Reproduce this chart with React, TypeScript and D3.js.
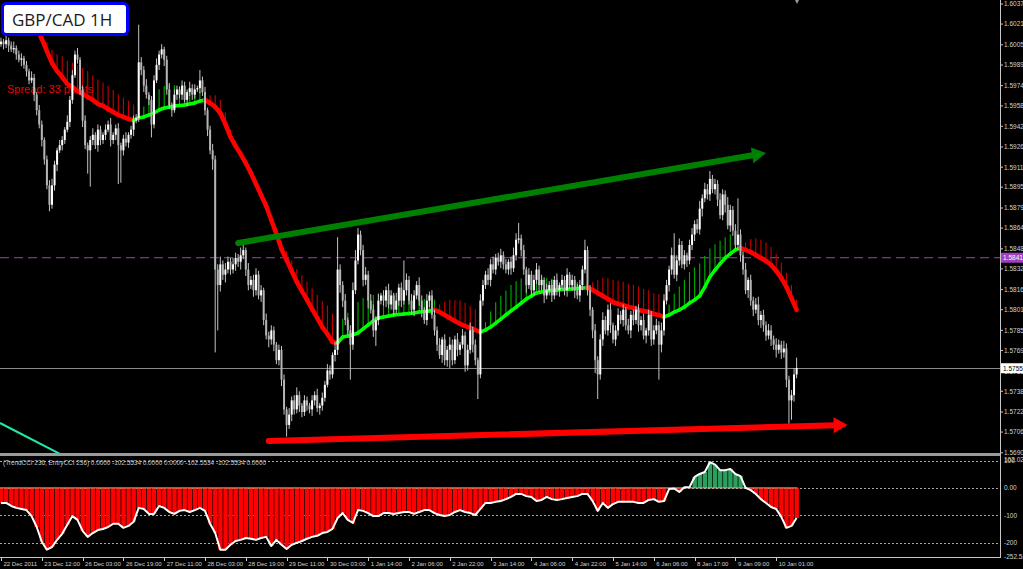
import React, { useEffect, useRef } from 'react';
import * as d3 from 'd3';

const W = 1023;
const H = 569;

// hourly GBP/CAD closes, 22 Dec 2011 -> 10 Jan 2012
const FIRST_OPEN = 1.6006;
const closes = [
  1.6008, 1.6006, 1.6009, 1.6005, 1.6002, 1.6003, 1.5998, 1.5994, 1.5995, 1.5990,
  1.5985, 1.5978, 1.5980, 1.5967, 1.5955, 1.5944, 1.5932, 1.5917, 1.5897, 1.5882,
  1.5897, 1.5913, 1.5924, 1.5928, 1.5932, 1.5940, 1.5946, 1.5963, 1.5982, 1.5998,
  1.5994, 1.5971, 1.5947, 1.5928, 1.5924, 1.5932, 1.5936, 1.5928, 1.5940, 1.5932,
  1.5936, 1.5940, 1.5944, 1.5932, 1.5936, 1.5941, 1.5928, 1.5924, 1.5933, 1.5930,
  1.5936, 1.5940, 1.5947, 1.5949, 1.5992, 1.5986, 1.5974, 1.5967, 1.5963, 1.5944,
  1.5978, 1.5990, 1.5998, 1.6002, 1.5994, 1.5971, 1.5959, 1.5955, 1.5967, 1.5971,
  1.5967, 1.5974, 1.5963, 1.5969, 1.5972, 1.5967, 1.5971, 1.5972, 1.5978, 1.5969,
  1.5955, 1.5940, 1.5924, 1.5917, 1.5832, 1.5820, 1.5836, 1.5828, 1.5832, 1.5838,
  1.5832, 1.5836, 1.5841, 1.5838, 1.5843, 1.5847, 1.5832, 1.5820, 1.5824, 1.5816,
  1.5828, 1.5812, 1.5816, 1.5793, 1.5781, 1.5778, 1.5785, 1.5774, 1.5762, 1.5770,
  1.5747, 1.5724, 1.5712, 1.5720, 1.5731, 1.5724, 1.5735, 1.5727, 1.5722, 1.5731,
  1.5727, 1.5724, 1.5731, 1.5735, 1.5725, 1.5727, 1.5733, 1.5743, 1.5754, 1.5751,
  1.5766, 1.5770, 1.5832, 1.5820, 1.5808, 1.5793, 1.5785, 1.5774, 1.5816, 1.5839,
  1.5859, 1.5847, 1.5824, 1.5828, 1.5808, 1.5801, 1.5785, 1.5793, 1.5808, 1.5812,
  1.5808, 1.5816, 1.5805, 1.5812, 1.5801, 1.5808, 1.5818, 1.5808, 1.5816, 1.5824,
  1.5808, 1.5801, 1.5812, 1.5820, 1.5808, 1.5801, 1.5793, 1.5808, 1.5812, 1.5797,
  1.5785, 1.5774, 1.5766, 1.5778, 1.5762, 1.5770, 1.5774, 1.5762, 1.5778, 1.5770,
  1.5774, 1.5781, 1.5758, 1.5770, 1.5785, 1.5774, 1.5762, 1.5751, 1.5808, 1.5820,
  1.5828, 1.5824, 1.5836, 1.5832, 1.5841, 1.5838, 1.5843, 1.5836, 1.5832, 1.5838,
  1.5833, 1.5843, 1.5855, 1.5856, 1.5847, 1.5832, 1.5820, 1.5828, 1.5816, 1.5824,
  1.5832, 1.5820, 1.5824, 1.5812, 1.5816, 1.5820, 1.5812, 1.5824, 1.5816, 1.5820,
  1.5824, 1.5816, 1.5828, 1.5820, 1.5824, 1.5816, 1.5812, 1.5820, 1.5832, 1.5847,
  1.5816, 1.5801, 1.5785, 1.5762, 1.5751, 1.5778, 1.5793, 1.5785, 1.5801, 1.5789,
  1.5778, 1.5785, 1.5797, 1.5793, 1.5801, 1.5789, 1.5785, 1.5797, 1.5793, 1.5801,
  1.5789, 1.5793, 1.5781, 1.5785, 1.5797, 1.5778, 1.5785, 1.5789, 1.5774, 1.5785,
  1.5808, 1.5820, 1.5832, 1.5843, 1.5828, 1.5839, 1.5851, 1.5836, 1.5843, 1.5839,
  1.5851, 1.5859, 1.5867, 1.5863, 1.5879, 1.5887, 1.5894, 1.5890, 1.5902, 1.5894,
  1.5898, 1.5886, 1.5874, 1.5890, 1.5882, 1.5866, 1.5878, 1.5862, 1.5851, 1.5859,
  1.5843, 1.5832, 1.5816, 1.5824, 1.5808, 1.5801, 1.5805, 1.5793, 1.5797, 1.5789,
  1.5781, 1.5785, 1.5778, 1.5774, 1.5770, 1.5774, 1.5768, 1.5771, 1.5747, 1.5731,
  1.5735, 1.5751, 1.5756,
];

// wick lengths beyond the body, in pips
const upWick = [
  3, 2, 4, 2, 3, 5, 2, 3, 4, 2, 3, 2, 5, 3, 2, 4, 3, 2, 3, 4,
  5, 3, 2, 4, 3, 2, 5, 3, 4, 3, 5, 2, 3, 4, 2, 3, 5, 2, 4, 3,
  2, 4, 3, 5, 2, 3, 4, 2, 3, 5, 2, 3, 4, 3, 29, 4, 3, 5, 2, 3,
  4, 5, 3, 4, 2, 3, 5, 2, 4, 3, 2, 4, 3, 2, 5, 3, 4, 2, 8, 3,
  4, 2, 3, 5, 3, 4, 6, 3, 5, 4, 3, 5, 4, 3, 6, 4, 2, 5, 3, 4,
  5, 3, 4, 2, 5, 3, 4, 3, 2, 4, 3, 4, 2, 5, 3, 4, 6, 3, 2, 4,
  3, 2, 4, 3, 5, 2, 4, 3, 5, 4, 2, 6, 25, 4, 3, 5, 2, 4, 6, 8,
  5, 3, 4, 6, 3, 5, 4, 3, 5, 2, 4, 3, 5, 4, 2, 6, 3, 4, 23, 5,
  3, 5, 4, 3, 6, 4, 2, 5, 3, 4, 4, 3, 5, 2, 4, 3, 6, 4, 3, 5,
  2, 5, 3, 4, 6, 3, 4, 2, 5, 4, 3, 5, 4, 6, 3, 4, 5, 3, 4, 2,
  4, 6, 5, 12, 3, 4, 2, 5, 3, 4, 5, 3, 4, 2, 5, 3, 4, 3, 5, 2,
  4, 3, 5, 2, 4, 3, 5, 4, 3, 8, 3, 4, 2, 5, 3, 4, 6, 3, 4, 5,
  2, 4, 5, 3, 4, 2, 5, 3, 4, 3, 4, 3, 5, 2, 4, 3, 4, 5, 3, 6,
  5, 4, 3, 6, 17, 4, 5, 3, 4, 2, 4, 5, 3, 4, 6, 3, 5, 4, 6, 3,
  4, 3, 5, 4, 3, 6, 4, 3, 5, 28, 4, 3, 5, 2, 4, 3, 5, 6, 3, 4,
  3, 5, 4, 3, 5, 4, 3, 6, 4, 3, 4, 5, 8,
];
const downWick = [
  2, 4, 3, 5, 2, 3, 4, 2, 5, 3, 4, 3, 2, 5, 4, 3, 5, 4, 3, 5,
  3, 4, 5, 2, 4, 3, 2, 4, 3, 2, 3, 4, 5, 3, 18, 28, 4, 3, 5, 4,
  3, 4, 2, 5, 3, 4, 30, 25, 4, 3, 4, 3, 5, 2, 3, 4, 5, 3, 4, 10,
  3, 2, 4, 3, 5, 4, 3, 5, 2, 4, 3, 4, 2, 5, 3, 4, 3, 2, 4, 3,
  4, 5, 3, 8, 64, 35, 5, 4, 6, 3, 4, 3, 5, 4, 6, 3, 5, 4, 3, 5,
  4, 3, 5, 4, 3, 6, 4, 5, 3, 4, 5, 4, 9, 3, 5, 4, 3, 5, 4, 3,
  4, 3, 5, 4, 3, 5, 4, 3, 2, 4, 3, 5, 4, 6, 5, 4, 3, 27, 4, 3,
  3, 4, 5, 4, 6, 3, 5, 12, 4, 3, 4, 5, 3, 4, 5, 3, 4, 5, 3, 4,
  3, 4, 5, 3, 4, 6, 3, 4, 5, 3, 4, 5, 3, 6, 4, 5, 14, 4, 3, 5,
  4, 3, 5, 4, 3, 6, 4, 19, 3, 4, 3, 4, 5, 3, 4, 3, 5, 4, 3, 4,
  5, 3, 4, 3, 5, 4, 6, 3, 5, 4, 3, 5, 4, 6, 3, 4, 5, 3, 4, 5,
  3, 4, 5, 3, 4, 6, 3, 5, 4, 3, 4, 5, 6, 10, 19, 4, 5, 3, 4, 6,
  3, 5, 4, 3, 5, 4, 3, 6, 4, 3, 5, 4, 3, 6, 4, 5, 4, 3, 27, 6,
  4, 3, 5, 4, 3, 5, 4, 3, 4, 5, 3, 4, 5, 3, 4, 6, 3, 4, 5, 3,
  4, 5, 3, 4, 6, 3, 5, 4, 3, 4, 5, 4, 3, 6, 4, 5, 3, 4, 6, 5,
  4, 3, 5, 4, 6, 3, 5, 4, 6, 18, 15, 5, 3,
];

// smoothed moving average, one value every 2nd bar starting at bar 14
const MA_START = 14;
const maValues = [
  1.60185, 1.60100, 1.60007, 1.59915, 1.59853, 1.59806, 1.59752, 1.59729, 1.59698, 1.59675,
  1.59652, 1.59629, 1.59598, 1.59583, 1.59559, 1.59536, 1.59513, 1.59498, 1.59482, 1.59474,
  1.59490, 1.59498, 1.59513, 1.59529, 1.59552, 1.59567, 1.59575, 1.59583, 1.59586, 1.59590,
  1.59598, 1.59606, 1.59621, 1.59629,
  1.59606, 1.59575, 1.59528, 1.59443, 1.59343, 1.59273, 1.59211, 1.59142, 1.59065, 1.58980,
  1.58895, 1.58810, 1.58702, 1.58594, 1.58478, 1.58393, 1.58309, 1.58224, 1.58154, 1.58085,
  1.58015, 1.57946, 1.57876, 1.57822, 1.57761,
  1.57753, 1.57799, 1.57807, 1.57815, 1.57830, 1.57861, 1.57892, 1.57923, 1.57946, 1.57954,
  1.57961, 1.57969, 1.57972, 1.57977, 1.57980, 1.57985, 1.57992, 1.57995, 1.58000, 1.58008,
  1.57992, 1.57969, 1.57946, 1.57923, 1.57900, 1.57884, 1.57869, 1.57853, 1.57838,
  1.57853, 1.57876, 1.57907, 1.57938, 1.57969, 1.58000, 1.58030, 1.58061, 1.58092, 1.58116,
  1.58139, 1.58146, 1.58154, 1.58158, 1.58162, 1.58165, 1.58168, 1.58170, 1.58173, 1.58177,
  1.58180,
  1.58162, 1.58139, 1.58116, 1.58092, 1.58069, 1.58054, 1.58046, 1.58030, 1.58023, 1.58008,
  1.58000, 1.57992, 1.57977, 1.57969, 1.57954,
  1.57969, 1.57992, 1.58008, 1.58030, 1.58061, 1.58085, 1.58116, 1.58185, 1.58262, 1.58316,
  1.58363, 1.58409, 1.58440, 1.58471, 1.58486,
  1.58471, 1.58455, 1.58432, 1.58409, 1.58386, 1.58355, 1.58309, 1.58255, 1.58185, 1.58100,
  1.58008,
];
// histogram height above the MA, in pips
const maGap = [
  2, 4, 7, 10, 13, 16, 18, 19, 20,
  20, 20, 19, 19, 18, 18, 17, 16, 15, 14, 12,
  4, 8, 11, 14, 16, 17, 17, 16, 15, 14, 12, 10, 8, 5,
  6, 9, 10, 9, 6, 4, 3, 3, 3, 3, 3, 4, 4, 5, 6, 7, 8, 10, 12, 14, 16, 18, 20, 22, 22,
  8, 14, 18, 22, 24, 24, 22, 20, 19, 18, 17, 16, 15, 14, 13, 12, 11, 10, 9, 8,
  6, 10, 14, 16, 18, 18, 17, 16, 14,
  6, 12, 16, 18, 19, 20, 20, 19, 18, 16, 14, 12, 10, 9, 8, 7, 6, 6, 5, 5, 4,
  6, 10, 14, 16, 17, 18, 18, 18, 18, 18, 17, 17, 16, 16, 15,
  8, 14, 18, 21, 24, 25, 25, 24, 22, 20, 18, 16, 15, 13, 12,
  6, 10, 13, 14, 14, 14, 13, 12, 11, 10, 8,
];

// TrendCCI(236), one value every 2nd bar
const cciValues = [
  -55, -55, -66, -73, -77, -81, -103, -143, -197, -226,
  -216, -190, -168, -135, -103, -117, -157, -179, -165, -154,
  -150, -143, -131, -131, -146, -139, -124, -73, -77, -95,
  -95, -66, -73, -88, -95, -84, -81, -88, -81, -73,
  -84, -131, -165, -226, -226, -208, -194, -190, -183, -186,
  -190, -183, -179, -212, -190, -208, -223, -208, -201, -194,
  -186, -179, -175, -165, -161, -150, -110, -92, -117, -128,
  -81, -84, -92, -103, -103, -92, -92, -95, -92, -88,
  -88, -95, -88, -81, -81, -92, -99, -103, -99, -88,
  -81, -88, -92, -99, -77, -55, -55, -51, -48, -41,
  -33, -22, -22, -30, -33, -48, -44, -33, -41, -44,
  -41, -37, -33, -30, -22, -22, -48, -84, -55, -73,
  -59, -51, -51, -51, -51, -55, -55, -44, -41, -51,
  -48, -4, -2, -15, 2, 3, 40, 51, 58, 94,
  85, 65, 65, 69, 51, 43, 0, -8, -22, -41,
  -55, -70, -77, -106, -146, -139, -110,
];
const cciLevels = [100, 0, -100, -200];
const cciLabels = [
  { v: 102.023, t: '102.023' },
  { v: 100, t: '100' },
  { v: 0, t: '0.00' },
  { v: -100, t: '-100' },
  { v: -200, t: '-200' },
  { v: -252.58, t: '-252.58' },
];

const priceTicks = [
  1.60370, 1.60215, 1.60055, 1.59899, 1.59740, 1.59583, 1.59426, 1.59266, 1.59110, 1.58956,
  1.58795, 1.58640, 1.58480, 1.58325, 1.58165, 1.58010, 1.57850, 1.57695, 1.57535, 1.57380,
  1.57220, 1.57065, 1.56905,
];
const TIME_STEP = 16;
const timeLabels = [
  '22 Dec 2011', '23 Dec 12:00', '26 Dec 03:00', '26 Dec 19:00', '27 Dec 11:00',
  '28 Dec 03:00', '28 Dec 19:00', '29 Dec 11:00', '30 Dec 03:00', '1 Jan 14:00',
  '2 Jan 06:00', '2 Jan 22:00', '3 Jan 14:00', '4 Jan 06:00', '4 Jan 22:00',
  '5 Jan 14:00', '6 Jan 06:00', '8 Jan 17:00', '9 Jan 09:00', '10 Jan 01:00',
];

const BID = 1.57558;
const ALERT_LEVEL = 1.58411;

// hand drawn objects: [bar, price]
const resistanceArrow = { from: [93, 1.58525], to: [300, 1.5922] };
const supportArrow = { from: [105, 1.56996], to: [332, 1.5712] };
const oldTrendline = { from: [-0.4, 1.57135], to: [26, 1.56867] };

const CCI_HEADER =
  '(TrendCCI 236, EntryCCI 236)  0.0000 -102.5534 0.0000 0.0000 -102.5534 -102.5534 0.0000';

const SMALL_FONT = '"Liberation Sans", Arial, sans-serif';

export default function App() {
  const svgRef = useRef<SVGSVGElement>(null);

  useEffect(() => {
    if (!svgRef.current) return;
    const svg = d3.select(svgRef.current);
    svg.selectAll('*').remove();

    const n = closes.length;
    const barStep = 2.55;
    const x = d3.scaleLinear().domain([0, n - 1]).range([1, 1 + barStep * (n - 1)]);
    const y = d3.scaleLinear().domain([1.56905, 1.6037]).range([452.8, 4]);
    const yc = d3.scaleLinear().domain([-252.58, 102.023]).range([557, 460]);
    const axisX = 1000;

    svg.append('rect').attr('width', W).attr('height', H).attr('fill', '#000');

    const defs = svg.append('defs');
    defs.append('clipPath').attr('id', 'mainClip')
      .append('rect').attr('x', 0).attr('y', 0).attr('width', axisX).attr('height', 453);
    defs.append('clipPath').attr('id', 'subClip')
      .append('rect').attr('x', 0).attr('y', 457).attr('width', axisX).attr('height', 100);

    const main = svg.append('g').attr('clip-path', 'url(#mainClip)');

    // spread label sits under the candles
    main.append('text')
      .attr('x', 7).attr('y', 93)
      .attr('fill', '#f00000')
      .attr('font-family', SMALL_FONT)
      .attr('font-size', 11)
      .text('Spread: 33 points');

    // horizontal price lines
    main.append('line')
      .attr('x1', 0).attr('x2', axisX)
      .attr('y1', y(ALERT_LEVEL)).attr('y2', y(ALERT_LEVEL))
      .attr('stroke', '#a040c0').attr('stroke-width', 1)
      .attr('stroke-dasharray', '9,5');
    main.append('line')
      .attr('x1', 0).attr('x2', axisX)
      .attr('y1', Math.round(y(BID)) + 0.5).attr('y2', Math.round(y(BID)) + 0.5)
      .attr('stroke', '#8a8a8a').attr('stroke-width', 1);

    // moving average with its histogram
    type MaPt = { b: number; v: number; gap: number; up: boolean };
    const maPts: MaPt[] = maValues.map((v, k) => ({ b: MA_START + 2 * k, v, gap: maGap[k], up: false }));
    maPts.forEach((p, k) => {
      if (k === 0) return;
      const prev = maPts[k - 1];
      p.up = p.v > prev.v ? true : p.v < prev.v ? false : prev.up;
    });

    main.append('g').selectAll('line')
      .data(maPts)
      .join('line')
      .attr('x1', (d) => x(d.b)).attr('x2', (d) => x(d.b))
      .attr('y1', (d) => y(d.v)).attr('y2', (d) => y(d.v + d.gap / 10000))
      .attr('stroke', (d) => (d.up ? '#00b000' : '#c80000'))
      .attr('stroke-width', 1.1);

    main.append('g').selectAll('line')
      .data(d3.pairs(maPts))
      .join('line')
      .attr('x1', (d) => x(d[0].b)).attr('y1', (d) => y(d[0].v))
      .attr('x2', (d) => x(d[1].b)).attr('y2', (d) => y(d[1].v))
      .attr('stroke', (d) => (d[1].up ? '#00ff00' : '#ff0000'))
      .attr('stroke-width', (d) => (d[1].up ? 3.5 : 4.5))
      .attr('stroke-linecap', 'round');

    // candles
    const bars = closes.map((c, i) => {
      const o = i === 0 ? FIRST_OPEN : closes[i - 1];
      return {
        i, o, c,
        h: Math.max(o, c) + upWick[i] / 10000,
        l: Math.min(o, c) - downWick[i] / 10000,
      };
    });
    const cg = main.append('g');
    cg.selectAll('line')
      .data(bars)
      .join('line')
      .attr('x1', (d) => x(d.i)).attr('x2', (d) => x(d.i))
      .attr('y1', (d) => y(d.h)).attr('y2', (d) => y(d.l))
      .attr('stroke', '#c4c4c4').attr('stroke-width', 1);
    cg.selectAll('rect')
      .data(bars)
      .join('rect')
      .attr('x', (d) => x(d.i) - 1)
      .attr('width', 2)
      .attr('y', (d) => y(Math.max(d.o, d.c)))
      .attr('height', (d) => Math.max(1, Math.abs(y(d.o) - y(d.c))))
      .attr('fill', (d) => (d.c >= d.o ? '#ffffff' : '#b4b4b4'));

    // trend arrows
    const drawArrow = (obj: { from: number[]; to: number[] }, color: string, w: number) => {
      const x1 = x(obj.from[0]), y1 = y(obj.from[1]);
      const x2 = x(obj.to[0]), y2 = y(obj.to[1]);
      const ang = Math.atan2(y2 - y1, x2 - x1);
      const hl = 14, hw = 8;
      const bx = x2 - hl * Math.cos(ang), by = y2 - hl * Math.sin(ang);
      main.append('line')
        .attr('x1', x1).attr('y1', y1).attr('x2', bx + 2 * Math.cos(ang)).attr('y2', by + 2 * Math.sin(ang))
        .attr('stroke', color).attr('stroke-width', w).attr('stroke-linecap', 'round');
      main.append('path')
        .attr('d', `M${x2},${y2}L${bx + hw * Math.sin(ang)},${by - hw * Math.cos(ang)}L${bx - hw * Math.sin(ang)},${by + hw * Math.cos(ang)}Z`)
        .attr('fill', color);
    };
    drawArrow(resistanceArrow, '#008000', 6);
    drawArrow(supportArrow, '#ff0000', 6);

    main.append('line')
      .attr('x1', x(oldTrendline.from[0])).attr('y1', y(oldTrendline.from[1]))
      .attr('x2', x(oldTrendline.to[0])).attr('y2', y(oldTrendline.to[1]))
      .attr('stroke', '#20e8a8').attr('stroke-width', 2);

    // panel separator
    svg.append('rect').attr('x', 0).attr('y', 453).attr('width', axisX).attr('height', 3).attr('fill', '#9a9a9a');

    // indicator window
    const sub = svg.append('g').attr('clip-path', 'url(#subClip)');
    sub.append('g').selectAll('line')
      .data(cciLevels)
      .join('line')
      .attr('x1', 0).attr('x2', axisX)
      .attr('y1', (d) => Math.round(yc(d)) + 0.5).attr('y2', (d) => Math.round(yc(d)) + 0.5)
      .attr('stroke', '#a8a8a8').attr('stroke-width', 1)
      .attr('stroke-dasharray', '2,2');

    const cciPts = cciValues.map((v, k) => ({ b: 2 * k, v }));
    sub.append('g').selectAll('rect')
      .data(cciPts)
      .join('rect')
      .attr('x', (d) => x(d.b) - 2.1)
      .attr('width', 4.4)
      .attr('y', (d) => yc(Math.max(0, d.v)))
      .attr('height', (d) => Math.abs(yc(d.v) - yc(0)))
      .attr('fill', (d) => (d.v >= 0 ? '#2e9e5e' : '#ff0000'));

    sub.append('line')
      .attr('x1', 0).attr('x2', x(n - 1) + 1)
      .attr('y1', yc(0)).attr('y2', yc(0))
      .attr('stroke', '#c8b888').attr('stroke-width', 1);

    const cciLine = d3.line<{ b: number; v: number }>()
      .x((d) => x(d.b))
      .y((d) => yc(d.v));
    sub.append('path')
      .datum(cciPts)
      .attr('d', cciLine)
      .attr('fill', 'none')
      .attr('stroke', '#ffffff')
      .attr('stroke-width', 2)
      .attr('stroke-linejoin', 'round');

    svg.append('text')
      .attr('x', 3).attr('y', 465)
      .attr('fill', '#c8c8c8')
      .attr('font-family', SMALL_FONT)
      .attr('font-size', 6.4)
      .text(CCI_HEADER);

    // frame
    svg.append('line')
      .attr('x1', axisX + 0.5).attr('x2', axisX + 0.5).attr('y1', 0).attr('y2', 557)
      .attr('stroke', '#c8c8c8').attr('stroke-width', 1);
    svg.append('line')
      .attr('x1', 0).attr('x2', axisX + 1).attr('y1', 557.5).attr('y2', 557.5)
      .attr('stroke', '#c8c8c8').attr('stroke-width', 1);

    // price axis
    const pAxis = svg.append('g');
    pAxis.selectAll('line')
      .data(priceTicks)
      .join('line')
      .attr('x1', axisX).attr('x2', axisX + 3)
      .attr('y1', (d) => y(d)).attr('y2', (d) => y(d))
      .attr('stroke', '#c8c8c8');
    pAxis.selectAll('text')
      .data(priceTicks)
      .join('text')
      .attr('x', axisX + 4).attr('y', (d) => y(d) + 2.3)
      .attr('fill', '#d0d0d0')
      .attr('font-family', SMALL_FONT)
      .attr('font-size', 6.5)
      .text((d) => d.toFixed(5));

    const tag = (price: number, bg: string, fg: string) => {
      const ty = y(price);
      svg.append('rect')
        .attr('x', axisX + 1).attr('y', ty - 5).attr('width', 24).attr('height', 10)
        .attr('fill', bg);
      svg.append('text')
        .attr('x', axisX + 3).attr('y', ty + 2.3)
        .attr('fill', fg)
        .attr('font-family', SMALL_FONT)
        .attr('font-size', 6.5)
        .text(price.toFixed(5));
    };
    tag(ALERT_LEVEL, '#a040c0', '#ffffff');
    tag(BID, '#ffffff', '#000000');

    // indicator axis
    const cAxis = svg.append('g');
    cAxis.selectAll('text')
      .data(cciLabels)
      .join('text')
      .attr('x', axisX + 4).attr('y', (d) => yc(d.v) + 2.3)
      .attr('fill', '#d0d0d0')
      .attr('font-family', SMALL_FONT)
      .attr('font-size', 6.5)
      .text((d) => d.t);

    // time axis
    const tAxis = svg.append('g');
    const tData = timeLabels.map((t, k) => ({ b: k * TIME_STEP, t }));
    tAxis.selectAll('line')
      .data(tData)
      .join('line')
      .attr('x1', (d) => Math.round(x(d.b)) + 0.5).attr('x2', (d) => Math.round(x(d.b)) + 0.5)
      .attr('y1', 557).attr('y2', 561)
      .attr('stroke', '#c8c8c8');
    tAxis.selectAll('text')
      .data(tData)
      .join('text')
      .attr('x', (d) => x(d.b) + 2.5).attr('y', 566)
      .attr('fill', '#d0d0d0')
      .attr('font-family', SMALL_FONT)
      .attr('font-size', 6)
      .text((d) => d.t);

    // small object marker at the top
    svg.append('path').attr('d', 'M795,0L799,0L797,4Z').attr('fill', '#9a9a9a');

    // title box
    svg.append('rect')
      .attr('x', 2.5).attr('y', 3.5).attr('width', 125).attr('height', 31).attr('rx', 4)
      .attr('fill', '#ffffff').attr('stroke', '#0000ff').attr('stroke-width', 3);
    svg.append('text')
      .attr('x', 12).attr('y', 26)
      .attr('fill', '#1a1a1a')
      .attr('font-family', '"Open Sans", "Noto Sans", sans-serif')
      .attr('font-size', 17)
      .text('GBP/CAD 1H');
  }, []);

  return (
    <svg
      ref={svgRef}
      width={W}
      height={H}
      viewBox={`0 0 ${W} ${H}`}
      style={{ position: 'absolute', left: 0, top: 0, display: 'block', background: '#000' }}
    />
  );
}
